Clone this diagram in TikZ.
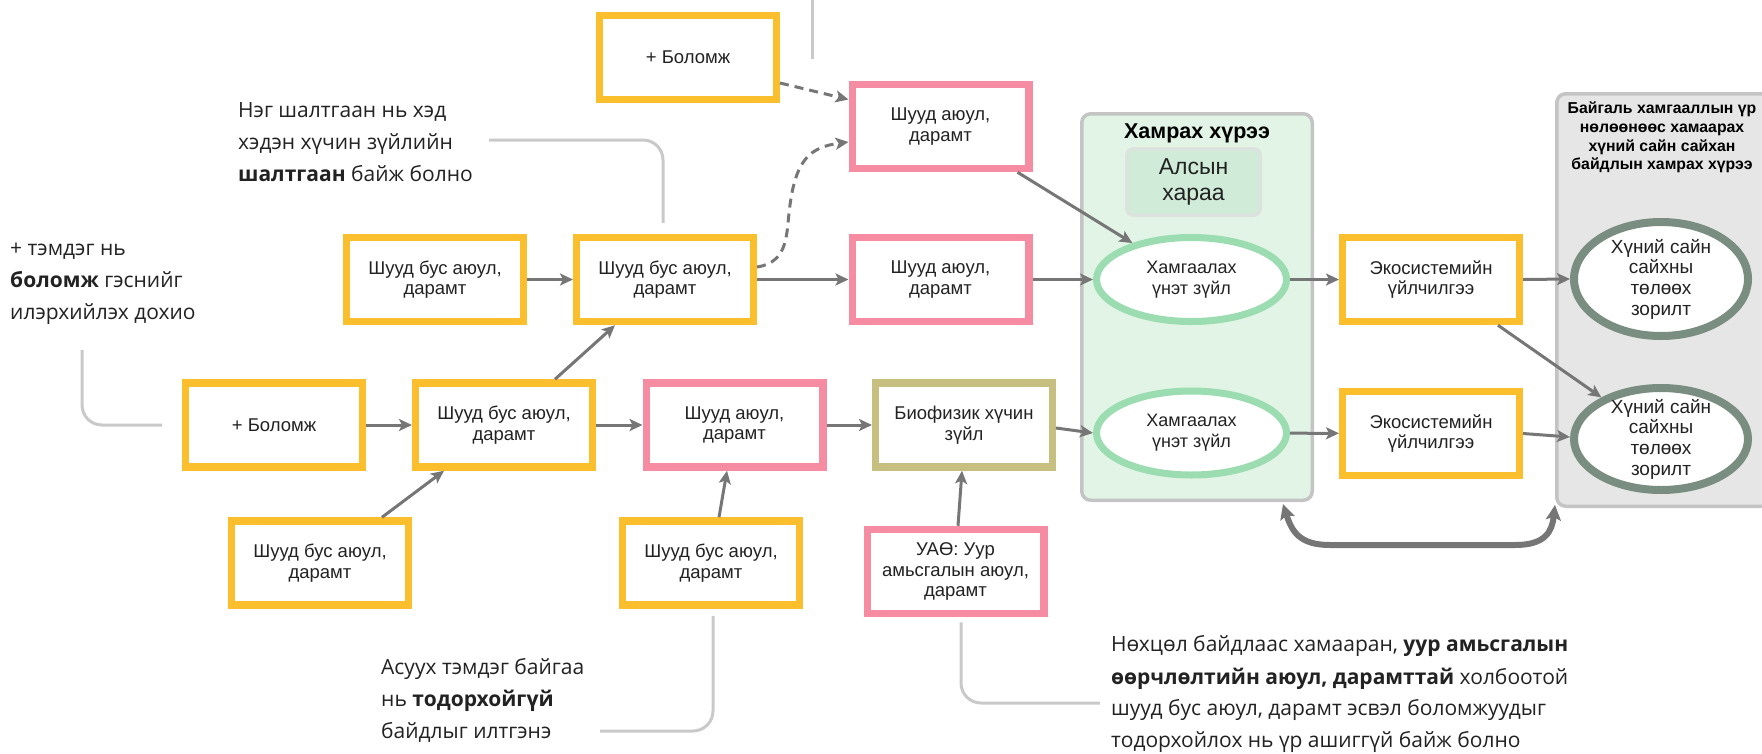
\documentclass[tikz,border=0pt]{standalone}
\usepackage{fontspec}
\setmainfont{Liberation Sans}
\newfontfamily\annfont{Open Sans}
\usetikzlibrary{arrows.meta,calc,shapes.geometric}
\definecolor{yel}{HTML}{FBBF2D}
\definecolor{pnk}{HTML}{F68CA1}
\definecolor{olv}{HTML}{C6BF80}
\definecolor{arr}{HTML}{767676}
\definecolor{call}{HTML}{C9C9C9}
\definecolor{gfill}{HTML}{E2F4E6}
\definecolor{gbord}{HTML}{C4C4C4}
\definecolor{afill}{HTML}{D0ECD8}
\definecolor{abord}{HTML}{DCE3DE}
\definecolor{gell}{HTML}{9BDCB0}
\definecolor{hell}{HTML}{7A8D81}
\definecolor{pfill}{HTML}{E6E6E6}
\definecolor{txt}{HTML}{222222}
\begin{document}
\begin{tikzpicture}[x=1pt,y=-1pt,
  box/.style={draw, line width=7.3pt, fill=white, minimum width=176.7pt, minimum height=84.2pt,
    inner sep=0pt, align=center, text=txt, font=\fontsize{18.5}{20.5}\selectfont},
  ybox/.style={box, draw=yel},
  pbox/.style={box, draw=pnk},
  obox/.style={box, draw=olv},
  gellipse/.style={ellipse, draw=gell, line width=7pt, fill=white, minimum width=190pt,
    minimum height=84pt, inner sep=0pt, align=center, text=txt, font=\fontsize{18}{21}\selectfont},
  hellipse/.style={ellipse, draw=hell, line width=8pt, fill=white, minimum width=174pt,
    inner sep=0pt, inner ysep=-7pt, align=center, text=txt, font=\fontsize{19}{20.7}\selectfont},
  conn/.style={draw=arr, line width=3pt, -{Stealth[length=13pt,width=12pt,inset=3pt]}},
  dconn/.style={conn, dash pattern=on 9pt off 6pt},
  callout/.style={draw=call, line width=3pt, rounded corners=20pt},
  ann/.style={anchor=base west, inner sep=0pt, text=txt, font=\annfont\fontsize{21}{32}\selectfont},
  ptitle/.style={anchor=base, inner sep=0pt, text=black, font=\bfseries\fontsize{15.8}{18.7}\selectfont}
]
\useasboundingbox (0,0) rectangle (1762,753);

% panels
\node[draw=gbord, fill=gfill, line width=3.5pt, rounded corners=9pt, minimum width=230.5pt,
  minimum height=386.5pt, inner sep=0pt] (gpan) at (1197,307) {};
\node[draw=gbord, fill=pfill, line width=3.5pt, rounded corners=9pt, minimum width=241.5pt,
  minimum height=412.5pt, inner sep=0pt] (hpan) at (1677.5,300) {};
\node[anchor=base, inner sep=0pt, font=\bfseries\fontsize{21.5}{24}\selectfont, text=black]
  (gtitle) at (1197,138) {Хамрах хүрээ};
\node[draw=abord, fill=afill, line width=3.5pt, rounded corners=7pt, minimum width=133.5pt,
  minimum height=66.5pt, inner sep=0pt, align=center, text=txt, font=\fontsize{23}{26}\selectfont]
  (als) at (1193.5,182) {Алсын\\хараа};
\node[ptitle] (ht1) at (1662,113) {Байгаль хамгааллын үр};
\node[ptitle] (ht2) at (1662,132) {нөлөөнөөс хамаарах};
\node[ptitle] (ht3) at (1662,151) {хүний сайн сайхан};
\node[ptitle] (ht4) at (1662,169) {байдлын хамрах хүрээ};

% boxes
\node[ybox] (bol1) at (688,57.5) {+ Боломж};
\node[pbox] (pk1) at (940.5,126.5) {Шууд аюул,\\дарамт};
\node[ybox] (hdA) at (435,279.5) {Шууд бус аюул,\\дарамт};
\node[ybox] (hdB) at (665,279.5) {Шууд бус аюул,\\дарамт};
\node[pbox] (pk2) at (940.5,279.5) {Шууд аюул,\\дарамт};
\node[ybox] (bol2) at (274,425) {+ Боломж};
\node[ybox] (hdC) at (504,425) {Шууд бус аюул,\\дарамт};
\node[pbox] (pk3) at (734.5,425) {Шууд аюул,\\дарамт};
\node[obox] (bio) at (964,425) {Биофизик хүчин\\зүйл};
\node[ybox] (hdD) at (320,563) {Шууд бус аюул,\\дарамт};
\node[ybox] (hdE) at (711,563) {Шууд бус аюул,\\дарамт};
\node[pbox] (uao) at (955.5,571.5) {УАӨ: Уур\\амьсгалын аюул,\\дарамт};
\node[ybox] (eco1) at (1431,279.5) {Экосистемийн\\үйлчилгээ};
\node[ybox] (eco2) at (1431,433.5) {Экосистемийн\\үйлчилгээ};
\node[gellipse] (ge1) at (1191.5,279.5) {Хамгаалах\\үнэт зүйл};
\node[gellipse] (ge2) at (1191.5,433) {Хамгаалах\\үнэт зүйл};
\node[hellipse, minimum height=114pt] (hu1) at (1661,279) {Хүний сайн\\сайхны\\төлөөх\\зорилт};
\node[hellipse, minimum height=102pt] (hu2) at (1661,439) {Хүний сайн\\сайхны\\төлөөх\\зорилт};

% connectors
\draw[dconn] ($(bol1.east)+(0,25.5)$) -- ($(pk1.west)+(0,-27)$);
\draw[dconn] ($(hdB.east)+(0,-12.5)$) .. controls (790,262) and (786,232) .. (790,205)
  .. controls (796,160) and (810,147) .. ($(pk1.west)+(0,15.5)$);
\draw[conn] (hdA) -- (hdB);
\draw[conn] (hdB) -- (pk2);
\draw[conn] (pk2) -- (ge1);
\draw[conn] ($(pk1.south east)+(-15,0)$) -- (ge1);
\draw[conn] (bol2) -- (hdC);
\draw[conn] (hdC) -- (pk3);
\draw[conn] (pk3) -- (bio);
\draw[conn] ($(bio.east)+(0,3)$) -- (ge2.west);
\draw[conn] ($(hdD.north)+(62,0)$) -- ($(hdC.south)+(-60,0)$);
\draw[conn] ($(hdC.north)+(51,0)$) -- ($(hdB.south)+(-50,0)$);
\draw[conn] ($(hdE.north)+(8,0)$) -- ($(pk3.south)+(-7.5,0)$);
\draw[conn] ($(uao.north)+(2.5,0)$) -- ($(bio.south)+(-2,0)$);
\draw[conn] (ge1) -- (eco1);
\draw[conn] (ge2) -- (eco2);
\draw[conn] (eco1.east) -- (hu1.west);
\draw[conn] (eco2.east) -- ($(hu2.west)+(0,-2)$);
\draw[conn] ($(eco1.south east)+(-25,0)$) -- (hu2);
\draw[draw=arr, line width=6pt, {Stealth[length=15pt,width=15pt,inset=3pt]}-{Stealth[length=15pt,width=15pt,inset=3pt]}]
  ($(gpan.south)+(86,2)$) .. controls (1292,532) and (1300,545) .. (1330,545) -- (1515,545)
  .. controls (1545,545) and (1552,532) .. ($(hpan.south west)+(0,-3)$);

% callouts
\coordinate (ctop) at (812,-5);
\draw[callout] (ctop) -- (812,59);
\coordinate (c1) at (489,140);
\draw[callout] (c1) -| ($(hdB.north)+(-2,-11)$);
\coordinate (c2) at (82,350);
\draw[callout] (c2) |- ($(bol2.west)+(-20,0)$);
\coordinate (c3) at (600,731);
\draw[callout] (c3) -| ($(hdE.south)+(2,7)$);
\coordinate (c4) at (1100,703);
\draw[callout] ($(uao.south)+(5.5,5)$) |- (c4);

% annotations
\node[ann] (a1) at (10,255) {+ тэмдэг нь};
\node[ann] (a2) at (10,287) {\textbf{боломж} гэснийг};
\node[ann] (a3) at (10,319) {илэрхийлэх дохио};
\node[ann] (b1) at (238,117) {Нэг шалтгаан нь хэд};
\node[ann] (b2) at (238,149) {хэдэн хүчин зүйлийн};
\node[ann] (b3) at (238,181) {\textbf{шалтгаан} байж болно};
\node[ann] (d1) at (381,674) {Асуух тэмдэг байгаа};
\node[ann] (d2) at (381,706) {нь \textbf{тодорхойгүй}};
\node[ann] (d3) at (381,738) {байдлыг илтгэнэ};
\node[ann] (e1) at (1111,651) {Нөхцөл байдлаас хамааран, \textbf{уур амьсгалын}};
\node[ann] (e2) at (1111,684) {\textbf{өөрчлөлтийн аюул, дарамттай} холбоотой};
\node[ann] (e3) at (1111,715) {шууд бус аюул, дарамт эсвэл боломжуудыг};
\node[ann] (e4) at (1111,747) {тодорхойлох нь үр ашиггүй байж болно};
\end{tikzpicture}
\end{document}
